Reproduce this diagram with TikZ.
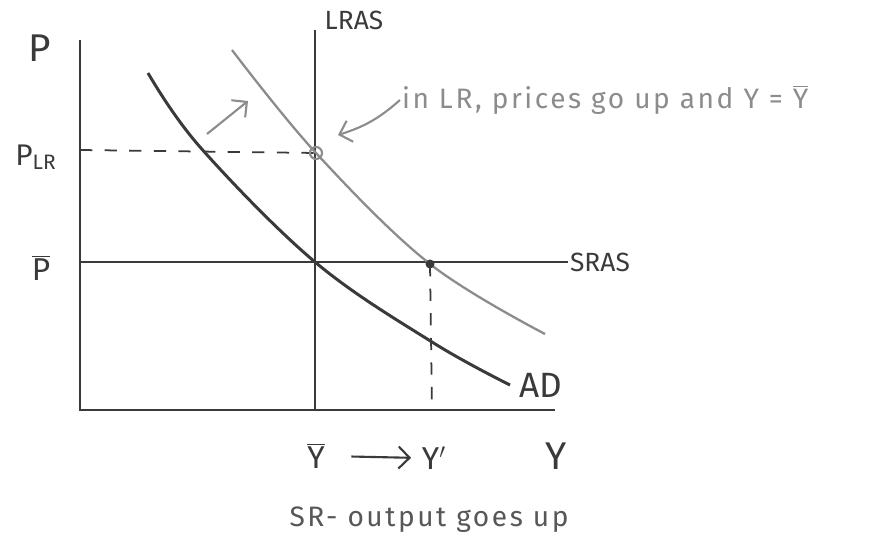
\documentclass[tikz,border=0pt]{standalone}
\usepackage{fontspec}
\setmainfont{Fira Sans}
\usetikzlibrary{arrows.meta,positioning,calc}
\definecolor{ink}{HTML}{3A3A3A}
\definecolor{soft}{HTML}{8C8C8C}

\begin{document}
\begin{tikzpicture}[
  x=0.02cm, y=-0.02cm,
  font=\fontsize{15}{17}\selectfont,
  axis/.style={draw=ink, line width=1.5pt},
  curve/.style={draw=ink, line width=1.7pt},
  shifted/.style={draw=soft, line width=1.3pt},
  guide/.style={draw=ink, line width=1pt, dash pattern=on 7pt off 7pt},
  lbl/.style={text=ink, inner sep=1pt},
  big/.style={lbl, font=\fontsize{22}{24}\selectfont},
  note/.style={text=soft, inner sep=1pt, font=\fontsize{16}{18}\selectfont\addfontfeatures{LetterSpace=9}},
  arrow/.style={-{Straight Barb[length=2.2mm]}, line width=1.2pt}
]
\useasboundingbox (0,0) rectangle (873,540);

% axes and long-run line
\coordinate (origin) at (80,410);
\coordinate (ytop) at (80,40);
\coordinate (xend) at (555,410);
\coordinate (lrastop) at (315,30);
\coordinate (lrasbot) at (315,410);
\draw[axis] (ytop) -- (origin) -- (xend);
\draw[axis] (lrastop) -- (lrasbot);

% equilibrium points
\coordinate (e0) at (315,262);
\coordinate (e1) at (430,264);
\coordinate (e2) at (316,153);
\coordinate (plr) at (80,150);
\coordinate (y1axis) at (432,410);

% short-run supply
\node[lbl] (sras) at (600,262) {SRAS};
\coordinate (srasstart) at (80,262);
\draw[axis] (srasstart) -- (sras.west);

% demand before and after
\draw[curve] plot[smooth, tension=0.6] coordinates {(148,73) (200,147) (315,262) (432,342) (510,385)};
\draw[shifted] plot[smooth, tension=0.6] coordinates {(232,50) (316,153) (430,264) (545,334)};
\node[big, font=\fontsize{20}{22}\selectfont] (ad) at (541,385) {AD};

% dashed guides
\draw[guide] (plr) -- (e2);
\draw[guide] (e1) -- (y1axis);
\draw[soft, line width=1.2pt] (e2) circle (6);
\fill[ink] (e1) circle (4.5);

% axis labels
\node[big] (plab) at (40,48) {P};
\node[lbl, font=\fontsize{17}{19}\selectfont] (plrlab) at (36,157) {P\textsubscript{LR}};
\node[big, font=\fontsize{18}{20}\selectfont] (pbar) at (41,268) {\(\overline{\mbox{P}}\)};
\node[lbl] (lras) at (354,20) {LRAS};
\node[big, font=\fontsize{18}{20}\selectfont] (ybar) at (316,456) {\(\overline{\mbox{Y}}\)};
\node[big, font=\fontsize{18}{20}\selectfont] (yone) at (434,458) {Y\('\)};
\node[big] (ylab) at (556,456) {Y};
\draw[ink, arrow, shorten <=14pt, shorten >=5pt] (ybar.east) -- (yone.west);

% notes
\node[note, anchor=west] (lrnote) at (400,100) {in LR, prices go up and Y = \(\overline{\mbox{Y}}\)};
\coordinate (notetip) at (338,135);
\draw[soft, arrow] (lrnote.west) to[bend left=12] (notetip);
\coordinate (shiftfrom) at (207,134);
\coordinate (shiftto) at (248,101);
\draw[soft, arrow] (shiftfrom) -- (shiftto);
\node[note, text=ink!85] (srnote) at (429,520) {SR- output goes up};
\end{tikzpicture}
\end{document}
